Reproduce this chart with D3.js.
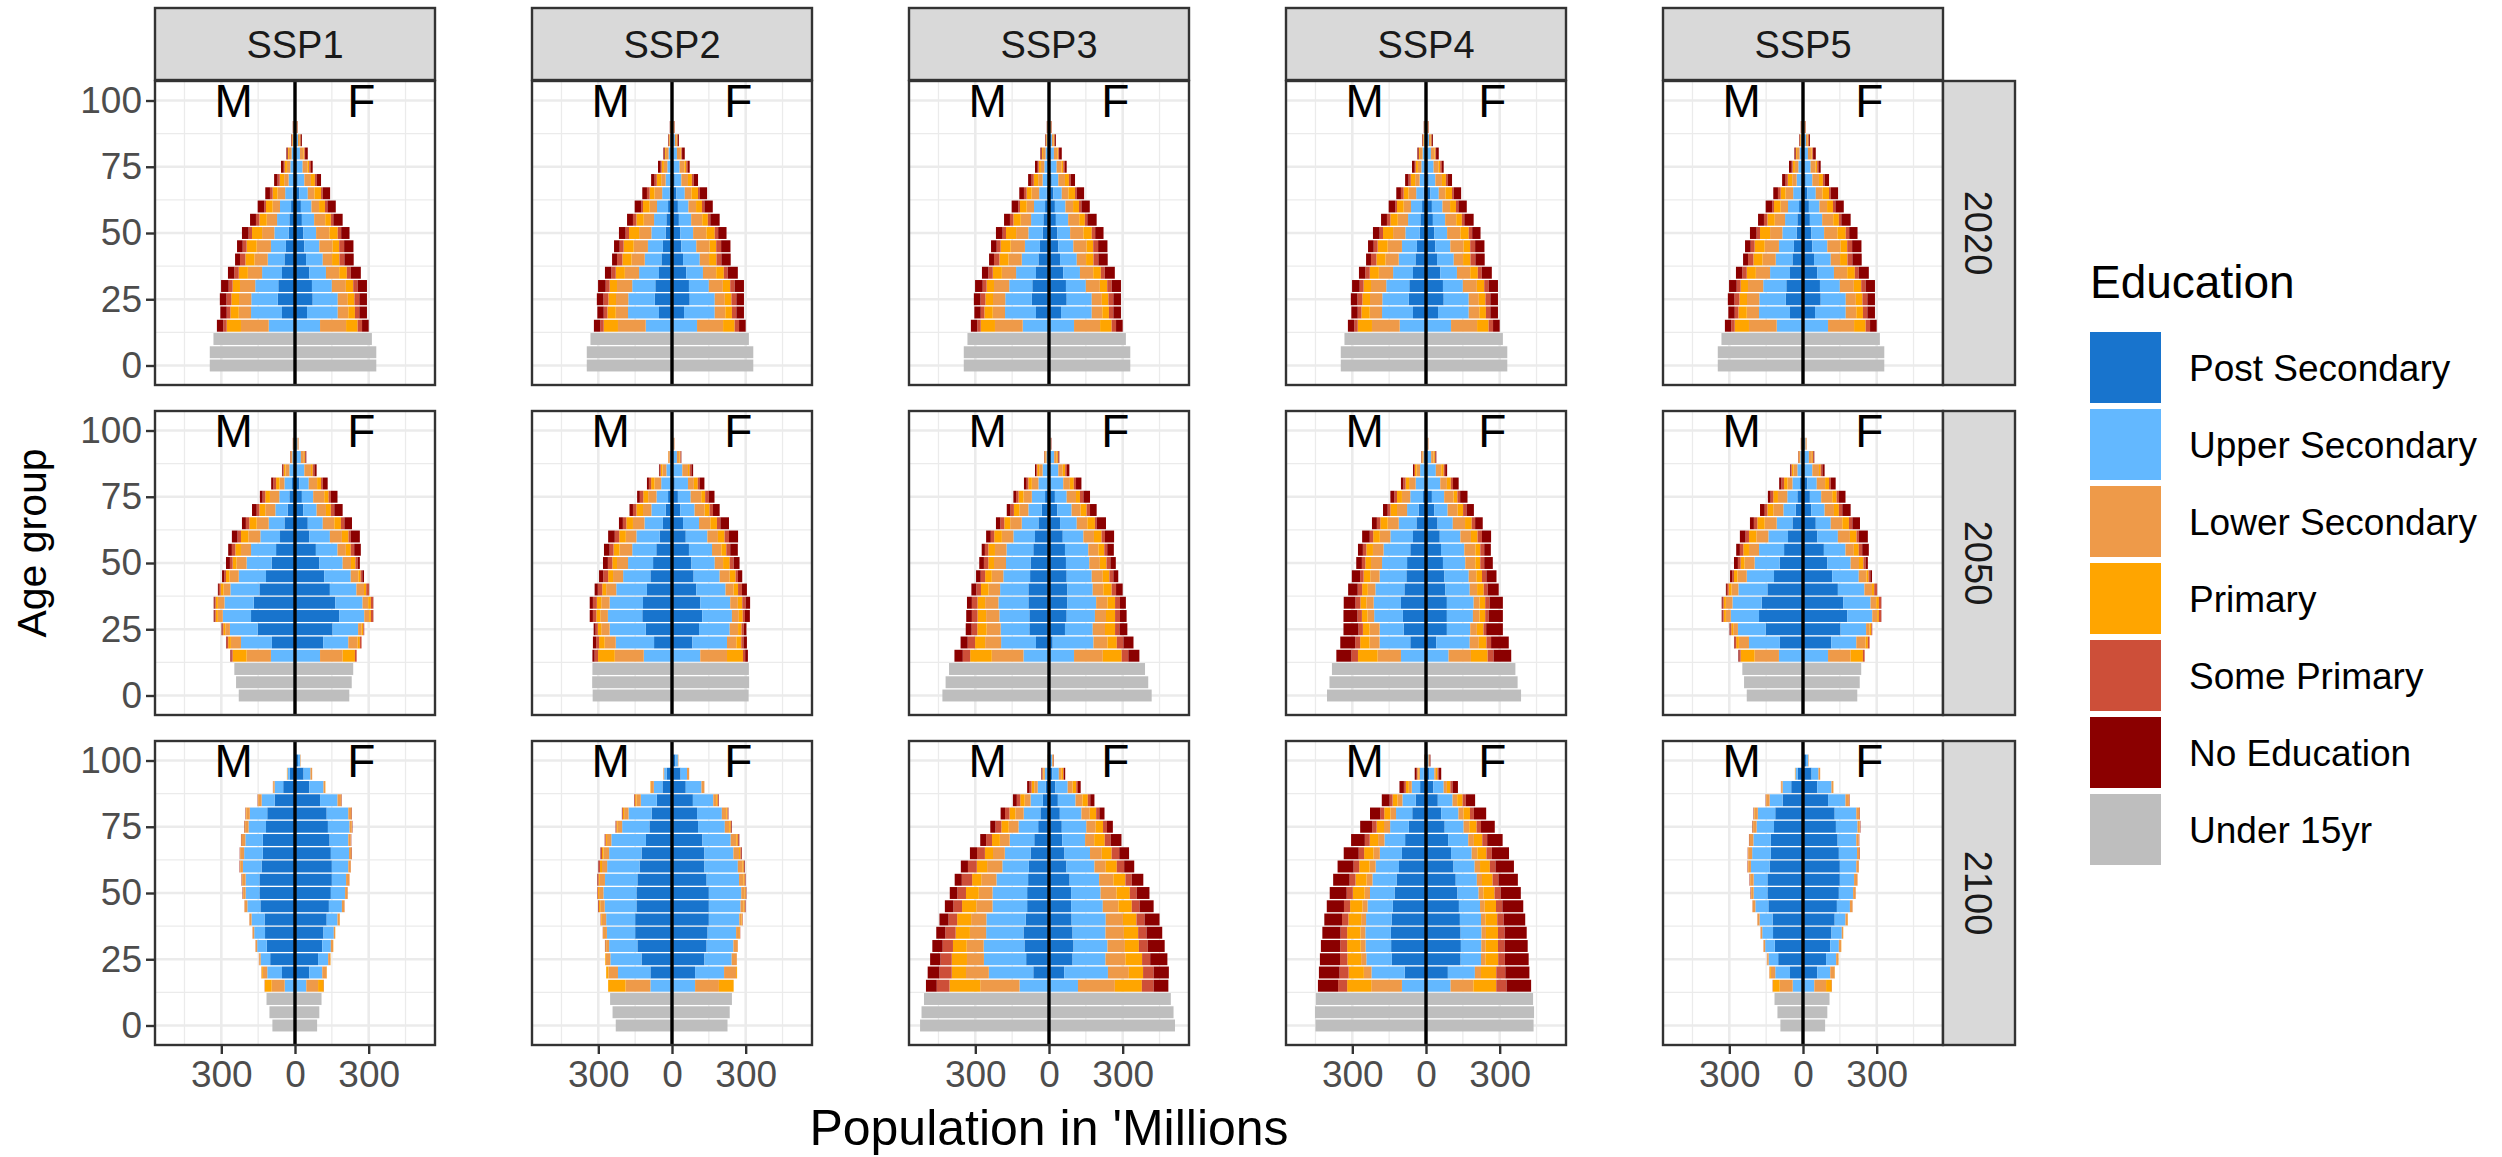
<!DOCTYPE html>
<html>
<head>
<meta charset="utf-8">
<script src="https://cdn.jsdelivr.net/npm/d3@7"></script>
<style>
  body { margin: 0; background: #fff; }
  svg text { font-family: "Liberation Sans", Arial, sans-serif; }
</style>
</head>
<body>
<svg id="chart"></svg>
<script>
// facets
var ssps  = ["SSP1", "SSP2", "SSP3", "SSP4", "SSP5"];
var years = ["2020", "2050", "2100"];

// age groups (bar centres) and axis ticks
var adultAges = [15, 20, 25, 30, 35, 40, 45, 50, 55, 60, 65, 70, 75, 80, 85, 90, 95, 100];
var childAges = [0, 5, 10];
var yTicks = [0, 25, 50, 75, 100];
var xTicks = [-300, 0, 300];

// stacking order, from the centre line outwards, then the under-15 category
var eduLevels = ["Post Secondary", "Upper Secondary", "Lower Secondary", "Primary", "Some Primary", "No Education", "Under 15yr"];
var eduColors = ["#1874CD", "#63B8FF", "#EE9A49", "#FFA500", "#CD4F39", "#8B0000", "#BEBEBE"];

// population in millions per adult age group:
// [post sec, upper sec, lower sec, primary, some primary, no education]

// ---- 2020 (same base year in every scenario)
var m2020 = [[0,107,113,58,14,26],[53,126,50,34,15,26],[70,108,50,31,20,27],[68,94,62,30,16,31],[53,81,58,37,18,26],[43,68,54,37,22,20],[37,61,58,41,16,23],[26,58,50,41,14,27],[23,50,42,30,14,24],[16,45,30,27,7,27],[10,30,31,20,11,19],[7,19,18,18,9,14],[3,16,14,9,4,11],[2,12,11,4,1,5],[1,6,4,2,1,2],[0,3,2,2,1,1],[0,1,1,1,0,0],[0,0,0,0,0,0]];
var f2020 = [[0,102,106,47,18,27],[49,125,43,27,18,31],[72,102,41,27,20,31],[69,81,57,30,18,38],[58,68,54,31,16,41],[45,68,38,30,20,38],[38,61,54,27,20,38],[34,52,54,34,14,34],[28,50,45,23,10,38],[24,43,31,24,10,34],[18,34,27,27,7,30],[11,27,27,16,7,18],[7,24,20,7,7,7],[3,17,14,4,3,11],[2,10,7,3,1,5],[1,4,2,2,1,1],[0,2,1,1,0,0],[0,0,0,0,0,0]];
var kidsM2020 = [347, 347, 332];
var kidsF2020 = [331, 331, 313];

// ---- 2050
var m2050ssp1 = [[0,98,99,57,5,4],[94,126,41,11,7,2],[152,113,19,8,4,3],[179,115,20,9,4,4],[168,119,27,9,4,4],[145,118,28,12,7,4],[118,111,38,14,7,9],[95,102,41,16,11,16],[77,102,41,23,14,15],[61,80,49,30,14,23],[43,64,49,30,14,16],[30,50,41,24,11,19],[23,41,38,19,11,11],[12,31,20,14,11,9],[7,16,16,7,4,3],[3,8,5,2,1,1],[1,4,2,1,1,0],[0,1,1,0,0,0]];
var f2050ssp1 = [[0,102,92,50,7,0],[115,102,38,9,7,0],[153,104,14,7,4,0],[180,102,20,7,9,1],[164,111,23,11,9,1],[142,108,31,9,11,1],[119,108,31,9,7,7],[99,95,34,18,9,9],[85,88,34,20,14,27],[58,84,49,27,9,37],[52,61,47,27,14,31],[34,54,38,20,14,34],[28,46,45,18,9,27],[18,38,34,16,7,20],[7,31,27,7,7,9],[4,20,12,4,3,3],[2,8,3,1,1,0],[0,2,1,0,0,0]];
var kidsM2050ssp1 = [229, 240, 247];
var kidsF2050ssp1 = [221, 231, 237];

var m2050ssp2 = [[0,115,118,68,14,9],[73,156,45,23,11,14],[107,147,34,14,9,8],[121,140,31,16,14,13],[118,136,34,18,16,13],[102,125,41,16,18,13],[88,111,41,20,20,17],[77,102,45,19,18,20],[64,98,52,24,16,23],[50,95,43,27,18,27],[37,75,47,27,14,16],[26,58,34,27,14,14],[16,47,34,20,14,11],[7,37,27,14,9,8],[3,20,16,7,4,3],[1,8,4,2,1,0],[0,2,1,0,0,0],[0,1,1,0,0,0]];
var f2050ssp2 = [[0,115,109,65,9,11],[83,141,38,20,9,14],[110,125,34,14,9,11],[123,121,28,16,9,20],[115,122,31,18,14,18],[99,119,33,18,16,20],[88,106,41,24,9,18],[79,95,34,27,16,24],[69,94,38,20,16,31],[56,88,43,27,18,37],[45,65,46,27,14,35],[34,58,41,20,14,27],[24,52,43,16,15,23],[11,54,24,16,7,20],[4,38,23,7,7,7],[2,18,10,4,2,2],[0,6,2,1,1,0],[0,1,1,0,0,0]];
var kidsM2050ssp2 = [323, 325, 324];
var kidsF2050ssp2 = [312, 314, 313];

var m2050ssp3 = [[0,104,129,88,30,34],[53,142,65,41,30,29],[80,117,57,38,23,24],[80,122,54,35,23,23],[84,122,54,31,23,20],[84,115,47,31,19,20],[77,109,47,27,18,19],[75,100,49,23,18,19],[64,109,47,27,14,13],[57,88,47,31,14,19],[43,68,47,24,16,18],[30,54,37,22,14,15],[16,54,34,20,10,11],[5,38,27,14,7,11],[2,24,14,8,4,5],[1,9,5,3,1,1],[0,2,1,1,0,0],[0,1,0,0,0,0]];
var f2050ssp3 = [[0,102,117,77,27,45],[15,166,57,38,27,41],[65,113,50,41,18,32],[72,115,45,37,20,27],[75,117,46,31,20,24],[75,103,43,34,18,27],[72,102,45,27,16,20],[69,95,43,27,16,22],[65,95,41,24,12,27],[56,84,43,31,14,37],[45,68,43,31,7,38],[34,58,37,24,14,27],[24,48,38,16,14,27],[5,53,27,16,9,22],[2,36,18,10,7,10],[1,20,10,5,3,3],[0,5,2,1,1,1],[0,1,0,0,0,0]];
var kidsM2050ssp3 = [434, 421, 407];
var kidsF2050ssp3 = [418, 404, 391];

var m2050ssp4 = [[0,102,95,80,27,61],[64,125,41,38,20,61],[91,98,41,27,18,61],[94,117,27,23,18,57],[102,111,30,24,20,48],[88,118,31,23,18,39],[80,109,38,27,14,34],[77,102,45,23,14,23],[64,109,43,27,14,20],[53,92,43,27,14,31],[39,72,45,30,14,20],[30,47,41,27,11,19],[12,52,34,20,11,16],[5,37,27,14,9,10],[2,22,14,7,4,4],[1,9,5,3,1,1],[0,2,1,1,0,0],[0,1,0,0,0,0]];
var f2050ssp4 = [[0,92,91,68,24,72],[42,136,37,31,19,72],[85,95,27,27,11,68],[85,106,27,23,14,58],[85,109,24,23,18,54],[79,99,30,27,16,45],[75,99,31,23,18,41],[69,91,41,20,16,35],[61,95,45,20,16,27],[56,84,43,27,18,37],[47,62,50,27,14,31],[34,54,41,22,14,30],[24,50,38,16,11,30],[5,53,27,16,9,23],[2,38,22,10,6,8],[1,20,10,5,3,3],[0,6,2,1,1,0],[0,1,0,0,0,0]];
var kidsM2050ssp4 = [403, 393, 383];
var kidsF2050ssp4 = [387, 373, 364];

// ---- 2100
var m2100ssp1 = [[0,42,53,28,1,0],[53,60,18,5,1,0],[101,39,5,1,1,0],[115,39,5,1,1,0],[122,44,5,1,1,0],[124,53,7,1,1,0],[141,53,10,1,1,0],[145,56,10,1,1,1],[145,56,14,1,1,1],[136,76,11,1,1,1],[131,76,14,2,1,1],[131,71,14,2,1,1],[118,71,14,2,1,1],[113,71,14,2,1,1],[83,53,12,2,1,1],[48,35,5,1,1,0],[21,9,2,1,0,0],[2,1,0,0,0,0]];
var f2100ssp1 = [[0,46,48,23,1,0],[58,53,18,1,0,0],[94,41,9,1,0,0],[111,35,9,1,0,0],[116,42,5,1,0,0],[129,44,9,1,0,0],[138,53,9,1,1,0],[146,58,9,1,1,0],[150,58,12,1,1,0],[150,67,9,1,1,0],[146,74,9,1,1,1],[141,76,9,1,1,1],[134,88,9,1,1,1],[129,88,12,1,1,1],[102,71,14,1,1,1],[58,58,7,1,0,0],[35,28,7,0,0,0],[12,9,2,0,0,0]];
var kidsM2100ssp1 = [92, 104, 116];
var kidsF2100ssp1 = [90, 99, 108];

var m2100ssp2 = [[0,88,101,71,0,0],[88,132,39,9,0,0],[124,127,18,3,0,0],[141,115,12,3,1,1],[150,115,12,3,2,0],[150,118,18,3,2,0],[145,129,18,5,3,1],[145,134,18,4,2,1],[141,132,21,5,3,2],[132,132,21,8,5,2],[124,132,23,6,4,2],[106,141,18,5,3,1],[92,111,18,5,3,1],[83,94,18,5,3,1],[62,65,18,5,3,1],[39,35,12,2,0,0],[21,11,3,0,0,0],[2,1,0,0,0,0]];
var f2100ssp2 = [[0,94,97,60,0,0],[94,118,49,4,0,0],[132,111,21,0,0,0],[141,109,18,0,0,0],[145,116,12,3,2,0],[150,124,9,3,2,0],[150,129,12,5,3,1],[150,132,14,4,2,1],[141,132,18,5,3,1],[132,136,19,5,3,2],[132,118,23,6,4,2],[124,115,23,6,4,2],[106,109,18,6,3,2],[102,101,18,5,3,1],[85,83,12,6,4,1],[56,64,12,0,0,0],[35,26,9,0,0,0],[14,10,2,0,0,0]];
var kidsM2100ssp2 = [229, 242, 252];
var kidsF2100ssp2 = [226, 235, 244];

var m2100ssp3 = [[0,120,160,125,52,44],[64,181,93,58,50,48],[93,172,69,62,46,42],[100,166,69,56,42,42],[104,152,66,58,42,37],[95,160,62,57,35,37],[89,141,66,58,35,35],[89,141,56,52,35,31],[85,129,62,37,42,29],[82,108,62,42,36,29],[75,105,48,33,32,29],[60,100,40,32,24,24],[44,80,40,30,24,21],[35,68,34,24,18,18],[25,50,24,18,14,16],[14,32,14,11,8,10],[5,12,5,4,2,3],[1,2,1,1,0,0]];
var f2100ssp3 = [[0,118,150,110,48,60],[62,178,85,58,43,62],[96,134,81,68,33,70],[100,138,71,57,36,69],[96,134,75,58,34,64],[92,139,70,55,33,61],[90,129,64,54,32,57],[90,120,65,54,28,52],[84,120,58,49,26,47],[71,114,46,45,30,41],[63,104,48,40,31,40],[54,93,37,43,24,44],[52,100,38,30,16,24],[44,88,34,26,13,21],[36,72,28,22,10,17],[26,50,20,15,7,11],[14,26,10,8,3,5],[5,8,3,2,1,1]];
var kidsM2100ssp3 = [525, 519, 509];
var kidsF2100ssp3 = [513, 507, 496];

var m2100ssp4 = [[0,98,125,98,37,82],[87,135,31,62,37,84],[139,104,21,56,30,82],[142,104,20,55,28,79],[143,104,20,54,27,74],[140,104,20,52,26,72],[135,103,21,50,25,70],[128,100,22,48,25,69],[120,98,24,45,24,67],[110,95,25,42,23,65],[98,90,26,38,22,61],[85,84,26,34,20,56],[70,76,25,30,18,49],[56,66,23,25,16,42],[42,54,20,20,12,32],[24,34,12,12,8,18],[10,15,5,5,3,8],[2,3,1,1,0,1]];
var f2100ssp4 = [[0,100,93,93,42,100],[89,110,25,62,37,98],[141,83,18,52,27,97],[142,83,18,50,27,94],[141,85,18,49,27,90],[138,86,18,48,26,88],[134,86,19,46,26,85],[128,86,20,45,25,82],[121,86,21,43,24,79],[112,86,22,40,23,75],[102,84,23,37,22,70],[90,82,23,34,20,63],[76,77,23,30,18,56],[62,70,21,26,16,50],[48,60,19,22,13,38],[30,42,13,14,9,22],[14,20,6,7,5,10],[4,6,2,2,1,3]];
var kidsM2100ssp4 = [450, 452, 448];
var kidsF2100ssp4 = [438, 440, 436];

// which arrays belong to which facet (SSP5 follows SSP1 closely)
var base2020 = { m: m2020, f: f2020, km: kidsM2020, kf: kidsF2020 };
var facetData = {
  "2020": { SSP1: base2020, SSP2: base2020, SSP3: base2020, SSP4: base2020, SSP5: base2020 },
  "2050": {
    SSP1: { m: m2050ssp1, f: f2050ssp1, km: kidsM2050ssp1, kf: kidsF2050ssp1 },
    SSP2: { m: m2050ssp2, f: f2050ssp2, km: kidsM2050ssp2, kf: kidsF2050ssp2 },
    SSP3: { m: m2050ssp3, f: f2050ssp3, km: kidsM2050ssp3, kf: kidsF2050ssp3 },
    SSP4: { m: m2050ssp4, f: f2050ssp4, km: kidsM2050ssp4, kf: kidsF2050ssp4 },
    SSP5: { m: m2050ssp1, f: f2050ssp1, km: kidsM2050ssp1, kf: kidsF2050ssp1 }
  },
  "2100": {
    SSP1: { m: m2100ssp1, f: f2100ssp1, km: kidsM2100ssp1, kf: kidsF2100ssp1 },
    SSP2: { m: m2100ssp2, f: f2100ssp2, km: kidsM2100ssp2, kf: kidsF2100ssp2 },
    SSP3: { m: m2100ssp3, f: f2100ssp3, km: kidsM2100ssp3, kf: kidsF2100ssp3 },
    SSP4: { m: m2100ssp4, f: f2100ssp4, km: kidsM2100ssp4, kf: kidsF2100ssp4 },
    SSP5: { m: m2100ssp1, f: f2100ssp1, km: kidsM2100ssp1, kf: kidsF2100ssp1 }
  }
};

// turn one facet's arrays into stacked rectangles
function buildSegments(d) {
  var segs = [];
  [["M", d.m, d.km, -1], ["F", d.f, d.kf, 1]].forEach(function(s) {
    var sign = s[3];
    s[1].forEach(function(row, i) {
      var cum = 0;
      row.forEach(function(v, k) {
        if (v <= 0) return;
        segs.push({ age: adultAges[i], x0: sign * cum, x1: sign * (cum + v), color: eduColors[k] });
        cum += v;
      });
    });
    s[2].forEach(function(v, i) {
      segs.push({ age: childAges[i], x0: 0, x1: sign * v, color: eduColors[6] });
    });
  });
  return segs;
}

// layout
var W = 2502, H = 1157;
var panelW = 280, panelH = 304;
var colX = function(c) { return 155 + c * 377; };
var rowY = function(r) { return 81 + r * 330; };
var stripSize = 72;
var borderCol = "#333333";

var svg = d3.select("#chart").attr("width", W).attr("height", H);
svg.append("rect").attr("width", W).attr("height", H).attr("fill", "#fff");

var x = d3.scaleLinear().domain([-570, 570]).range([0, panelW]);
var y = d3.scaleLinear().domain([-7.36, 107.36]).range([panelH, 0]);
var barHalf = 2.25;

years.forEach(function(yr, r) {
  ssps.forEach(function(ssp, c) {
    var g = svg.append("g").attr("transform", "translate(" + colX(c) + "," + rowY(r) + ")");

    // grid
    [-450, -150, 150, 450].forEach(function(v) {
      g.append("line").attr("x1", x(v)).attr("x2", x(v)).attr("y1", 0).attr("y2", panelH)
        .attr("stroke", "#ebebeb").attr("stroke-width", 1.3);
    });
    [12.5, 37.5, 62.5, 87.5].forEach(function(v) {
      g.append("line").attr("x1", 0).attr("x2", panelW).attr("y1", y(v)).attr("y2", y(v))
        .attr("stroke", "#ebebeb").attr("stroke-width", 1.3);
    });
    xTicks.forEach(function(v) {
      g.append("line").attr("x1", x(v)).attr("x2", x(v)).attr("y1", 0).attr("y2", panelH)
        .attr("stroke", "#ebebeb").attr("stroke-width", 2.6);
    });
    yTicks.forEach(function(v) {
      g.append("line").attr("x1", 0).attr("x2", panelW).attr("y1", y(v)).attr("y2", y(v))
        .attr("stroke", "#ebebeb").attr("stroke-width", 2.6);
    });

    // bars
    g.selectAll("rect.seg")
      .data(buildSegments(facetData[yr][ssp]))
      .enter().append("rect")
      .attr("class", "seg")
      .attr("x", function(d) { return x(Math.min(d.x0, d.x1)); })
      .attr("width", function(d) { return Math.abs(x(d.x1) - x(d.x0)); })
      .attr("y", function(d) { return y(d.age + barHalf); })
      .attr("height", function(d) { return y(d.age - barHalf) - y(d.age + barHalf); })
      .attr("fill", function(d) { return d.color; });

    // centre line
    g.append("line").attr("x1", x(0)).attr("x2", x(0)).attr("y1", 0).attr("y2", panelH)
      .attr("stroke", "#000").attr("stroke-width", 3.4);

    // sex labels
    g.append("text").attr("x", x(-250)).attr("y", y(100)).attr("dy", "0.36em")
      .attr("text-anchor", "middle").style("font-size", "46px").attr("fill", "#000").text("M");
    g.append("text").attr("x", x(270)).attr("y", y(100)).attr("dy", "0.36em")
      .attr("text-anchor", "middle").style("font-size", "46px").attr("fill", "#000").text("F");

    // border
    g.append("rect").attr("width", panelW).attr("height", panelH)
      .attr("fill", "none").attr("stroke", borderCol).attr("stroke-width", 2.4);

    // top strip
    if (r === 0) {
      g.append("rect").attr("x", 0).attr("y", -stripSize - 1).attr("width", panelW).attr("height", stripSize)
        .attr("fill", "#d9d9d9").attr("stroke", borderCol).attr("stroke-width", 2.4);
      g.append("text").attr("x", panelW / 2).attr("y", -stripSize / 2 - 1).attr("dy", "0.36em")
        .attr("text-anchor", "middle").style("font-size", "38px").attr("fill", "#1a1a1a").text(ssp);
    }
    // right strip
    if (c === ssps.length - 1) {
      g.append("rect").attr("x", panelW).attr("y", 0).attr("width", stripSize).attr("height", panelH)
        .attr("fill", "#d9d9d9").attr("stroke", borderCol).attr("stroke-width", 2.4);
      g.append("text").attr("transform", "translate(" + (panelW + stripSize / 2) + "," + (panelH / 2) + ")rotate(90)")
        .attr("dy", "0.36em").attr("text-anchor", "middle").style("font-size", "38px").attr("fill", "#1a1a1a").text(yr);
    }

    // axes
    if (c === 0) {
      var ya = g.append("g").call(d3.axisLeft(y).tickValues(yTicks).tickSize(9).tickPadding(4));
      ya.select(".domain").remove();
      ya.selectAll("line").attr("stroke", borderCol).attr("stroke-width", 2.4);
      ya.selectAll("text").style("font-size", "37px").attr("fill", "#4d4d4d");
    }
    if (r === years.length - 1) {
      var xa = g.append("g").attr("transform", "translate(0," + panelH + ")")
        .call(d3.axisBottom(x).tickValues(xTicks).tickSize(9).tickPadding(7).tickFormat(function(v) { return Math.abs(v); }));
      xa.select(".domain").remove();
      xa.selectAll("line").attr("stroke", borderCol).attr("stroke-width", 2.4);
      xa.selectAll("text").style("font-size", "37px").attr("fill", "#4d4d4d");
    }
  });
});

// axis titles
svg.append("text").attr("x", (colX(0) + colX(4) + panelW) / 2).attr("y", 1145)
  .attr("text-anchor", "middle").style("font-size", "50px").attr("fill", "#000").text("Population in 'Millions");
svg.append("text").attr("transform", "translate(46,543)rotate(-90)")
  .attr("text-anchor", "middle").style("font-size", "41px").attr("fill", "#000").text("Age group");

// legend
var legend = svg.append("g").attr("transform", "translate(2090,0)");
legend.append("text").attr("x", 0).attr("y", 298).style("font-size", "46px").attr("fill", "#000").text("Education");
legend.selectAll("rect.key").data(eduLevels).enter().append("rect")
  .attr("class", "key")
  .attr("x", 0).attr("y", function(d, i) { return 332 + i * 77; })
  .attr("width", 71).attr("height", 71)
  .attr("fill", function(d, i) { return eduColors[i]; });
legend.selectAll("text.lab").data(eduLevels).enter().append("text")
  .attr("class", "lab")
  .attr("x", 99).attr("y", function(d, i) { return 332 + i * 77 + 35.5; }).attr("dy", "0.36em")
  .style("font-size", "37px").attr("fill", "#000").text(function(d) { return d; });
</script>
</body>
</html>
